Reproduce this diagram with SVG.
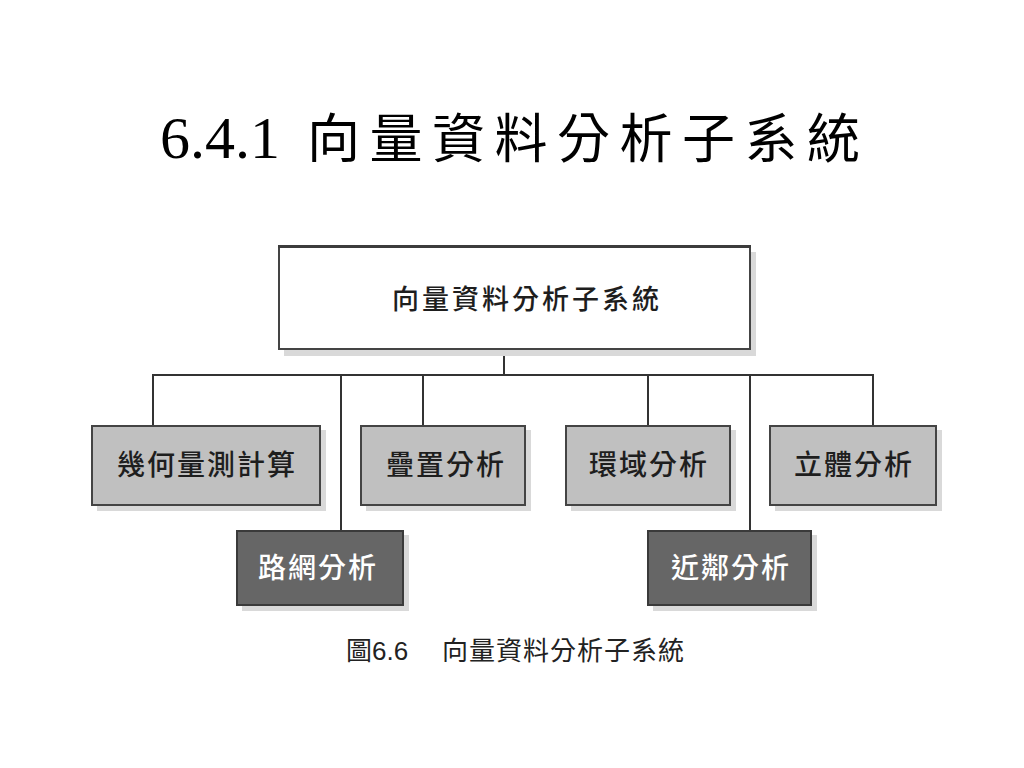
<svg xmlns="http://www.w3.org/2000/svg" width="1024" height="768" viewBox="0 0 1024 768">
<style>
.shadow{fill:#d9d9d9}
.root{fill:#ffffff;stroke:#444444;stroke-width:2}
.leaf{fill:#c0c0c0;stroke:#444444;stroke-width:2}
.dark{fill:#666666;stroke:#3a3a3a;stroke-width:2}
.lbl{font-family:"Noto Sans CJK TC","Noto Sans CJK SC",sans-serif;font-size:28px;letter-spacing:2px;fill:#1e1e1e;text-anchor:middle;font-weight:500}
.lblw{fill:#ffffff}
.conn line{stroke:#333333;stroke-width:2;fill:none}
</style>
<rect width="1024" height="768" fill="#ffffff"/>
<text id="title" x="160" y="158" font-family="Liberation Serif, 'Noto Sans CJK TC', serif" font-size="60" fill="#000000">6.4.1<tspan x="307" font-size="53" letter-spacing="9.5" font-family="'Noto Sans CJK TC', 'Noto Sans CJK SC', serif" font-weight="400">向量資料分析子系統</tspan></text>

<g id="connectors" class="conn">
<line x1="504" y1="350" x2="504" y2="375"/>
<line x1="152" y1="375" x2="874" y2="375"/>
<line x1="153" y1="375" x2="153" y2="426"/>
<line x1="341" y1="375" x2="341" y2="531"/>
<line x1="423" y1="375" x2="423" y2="426"/>
<line x1="648" y1="375" x2="648" y2="426"/>
<line x1="750" y1="375" x2="750" y2="531"/>
<line x1="873" y1="375" x2="873" y2="426"/>
</g>

<g id="root">
<rect class="shadow" x="284" y="252" width="472" height="104"/>
<rect class="root" x="279" y="247" width="471" height="102"/>
<line x1="278" y1="246.5" x2="751" y2="246.5" stroke="#3c3c3c" stroke-width="3"/>
<text class="lbl" x="527" y="309" style="font-size:27px;letter-spacing:3px">向量資料分析子系統</text>
</g>

<g id="n1">
<rect class="shadow" x="97" y="430" width="229" height="81"/>
<rect class="leaf" x="92" y="426" width="228" height="79"/>
<text class="lbl" x="207" y="475">幾何量測計算</text>
</g>

<g id="n2">
<rect class="shadow" x="366" y="430" width="165" height="81"/>
<rect class="leaf" x="361" y="426" width="164" height="79"/>
<text class="lbl" x="446" y="475">疊置分析</text>
</g>

<g id="n3">
<rect class="shadow" x="571" y="430" width="165" height="81"/>
<rect class="leaf" x="566" y="426" width="164" height="79"/>
<text class="lbl" x="649" y="475">環域分析</text>
</g>

<g id="n4">
<rect class="shadow" x="775" y="430" width="167" height="81"/>
<rect class="leaf" x="770" y="426" width="166" height="79"/>
<text class="lbl" x="854" y="475">立體分析</text>
</g>

<g id="n5">
<rect class="shadow" x="242" y="535" width="167" height="76"/>
<rect class="dark" x="237" y="531" width="166" height="74"/>
<text class="lbl lblw" x="318" y="578">路網分析</text>
</g>

<g id="n6">
<rect class="shadow" x="653" y="535" width="164" height="76"/>
<rect class="dark" x="648" y="531" width="163" height="74"/>
<text class="lbl lblw" x="731" y="578">近鄰分析</text>
</g>

<g id="caption" font-family="'Noto Sans CJK TC','Noto Sans CJK SC',sans-serif" font-size="26" fill="#222222">
<text x="346" y="660">圖<tspan font-family="Liberation Sans, sans-serif">6.6</tspan></text>
<text x="442" y="660" letter-spacing="1">向量資料分析子系統</text>
</g>
</svg>
